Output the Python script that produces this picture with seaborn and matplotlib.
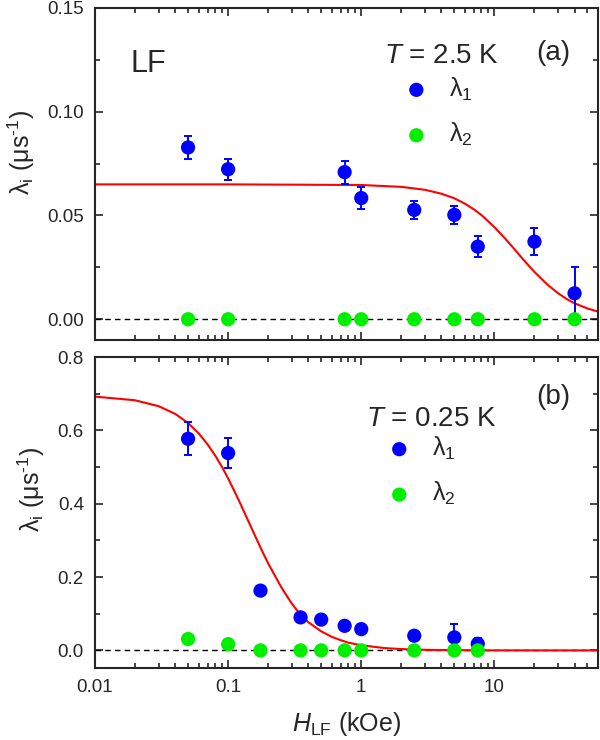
import matplotlib
matplotlib.use('Agg')
import matplotlib.pyplot as plt
import seaborn as sns
from matplotlib.ticker import FuncFormatter, AutoMinorLocator, NullFormatter, LogLocator

# Podaci - panel (a), T = 2.5 K
H_a = [0.05, 0.1, 0.75, 1.0, 2.5, 5.0, 7.5, 20, 40]
lam1_a = [0.0828, 0.0723, 0.0709, 0.0584, 0.0527, 0.0503, 0.0350, 0.0374, 0.0125]
err1_a = [0.0055, 0.0050, 0.0055, 0.0055, 0.0045, 0.0045, 0.0050, 0.0065, 0.0125]
lam2_a = [0, 0, 0, 0, 0, 0, 0, 0, 0]

# fit kriva (a), ocitana sa slike
H_fit_a = [0.01, 0.1, 1, 2, 3, 4, 5, 6, 7, 8, 10, 12, 14, 16, 18, 20, 25, 30, 35, 40, 50, 60]
fit_a = [0.0650, 0.0650, 0.0647, 0.0638, 0.0624, 0.0605, 0.0583, 0.0557, 0.0530, 0.0502, 0.0444,
         0.0390, 0.0341, 0.0297, 0.0260, 0.0228, 0.0167, 0.0126, 0.0097, 0.0077, 0.0052, 0.0037]

# Podaci - panel (b), T = 0.25 K
H_b = [0.05, 0.1, 0.175, 0.35, 0.5, 0.75, 1.0, 2.5, 5.0, 7.5]
lam1_b = [0.577, 0.538, 0.163, 0.090, 0.084, 0.067, 0.058, 0.040, 0.0355, 0.018]
err1_b = [0.045, 0.040, 0, 0, 0, 0, 0, 0, 0.036, 0.016]
lam2_b = [0.031, 0.017, 0, 0, 0, 0, 0, 0, 0, 0]

# fit kriva (b), ocitana sa slike
H_fit_b = [0.01, 0.02, 0.03, 0.04, 0.05, 0.06, 0.07, 0.08, 0.09, 0.1, 0.12, 0.14, 0.16, 0.18, 0.2,
           0.25, 0.3, 0.35, 0.4, 0.5, 0.6, 0.7, 0.8, 1.0, 1.5, 2, 3, 5, 10, 60]
fit_b = [0.692, 0.682, 0.666, 0.645, 0.620, 0.592, 0.562, 0.531, 0.500, 0.469, 0.410, 0.357, 0.311,
         0.271, 0.237, 0.173, 0.128, 0.097, 0.077, 0.052, 0.037, 0.028, 0.021, 0.014, 0.0063, 0.0036,
         0.0016, 0.0006, 0.0001, 0.0]

plava = '#0000ff'
zelena = '#00ee00'
ylabela = r'λ$_{\rm i}$ (μs$^{\text{-}1}$)'

sns.set_style('ticks')
plt.rcParams['font.family'] = ['Liberation Sans', 'DejaVu Sans']
plt.rcParams['mathtext.fontset'] = 'custom'
plt.rcParams['mathtext.rm'] = 'Liberation Sans'
plt.rcParams['mathtext.it'] = 'Liberation Sans:italic'

fig, (ax1, ax2) = plt.subplots(2, 1, figsize=(6, 7.4), dpi=100)
ax1.set_position([95 / 600, 1 - 340 / 740, 503 / 600, 332 / 740])
ax2.set_position([95 / 600, 1 - 668 / 740, 503 / 600, 311 / 740])


def crtaj(ax, H, lam1, err1, lam2, H_fit, fit):
    ax.axhline(0, color='black', lw=1, ls=(0, (4, 3)), zorder=1)
    sns.lineplot(x=H_fit, y=fit, ax=ax, color='red', lw=1.5, zorder=2)
    ax.errorbar(H, lam1, yerr=err1, fmt='none', ecolor=plava, elinewidth=1.4,
                capsize=3.2, capthick=1.4, zorder=3)
    sns.scatterplot(x=H, y=lam1, ax=ax, color=plava, s=105, edgecolor='none',
                    label=r'λ$_{\rm 1}$', zorder=4)
    sns.scatterplot(x=H, y=lam2, ax=ax, color=zelena, s=105, edgecolor='none',
                    label=r'λ$_{\rm 2}$', zorder=4)
    ax.set_xscale('log')
    ax.set_xlim(0.01, 60)
    ax.xaxis.set_major_locator(LogLocator(base=10))
    ax.xaxis.set_minor_locator(LogLocator(base=10, subs=range(2, 10)))
    ax.xaxis.set_minor_formatter(NullFormatter())
    ax.xaxis.set_major_formatter(FuncFormatter(lambda v, p: f'{v:g}'))
    ax.yaxis.set_minor_locator(AutoMinorLocator(2))
    ax.tick_params(which='both', direction='in', top=True, right=True, width=1.2)
    ax.tick_params(which='major', length=6, labelsize=13.5, pad=8)
    ax.tick_params(which='minor', length=3.5)
    for s in ax.spines.values():
        s.set_linewidth(1.5)


crtaj(ax1, H_a, lam1_a, err1_a, lam2_a, H_fit_a, fit_a)
crtaj(ax2, H_b, lam1_b, err1_b, lam2_b, H_fit_b, fit_b)

# panel (a)
ax1.set_ylim(-0.01, 0.15)
ax1.set_yticks([0.0, 0.05, 0.10, 0.15])
ax1.yaxis.set_major_formatter(FuncFormatter(lambda v, p: f'{v:.2f}'))
ax1.tick_params(labelbottom=False)
ax1.set_xlabel('')
ax1.set_ylabel(ylabela, fontsize=18)
ax1.yaxis.set_label_coords(-0.115, 0.565)
ax1.text(0.105, 0.83, 'LF', transform=ax1.transAxes, fontsize=22, ha='center', va='center')
ax1.text(0.911, 0.865, '(a)', transform=ax1.transAxes, fontsize=20, ha='center', va='center')
ax1.text(0.688, 0.855, r'$T$ = 2.5 K', transform=ax1.transAxes, fontsize=20, ha='center', va='center')
ax1.legend(loc='upper left', bbox_to_anchor=(0.614, 0.797), frameon=False, fontsize=18,
           labelspacing=0.73, handlelength=1.0, handletextpad=0.8, borderpad=0,
           borderaxespad=0)

# panel (b)
ax2.set_ylim(-0.048, 0.8)
ax2.set_yticks([0.0, 0.2, 0.4, 0.6, 0.8])
ax2.yaxis.set_major_formatter(FuncFormatter(lambda v, p: f'{v:.1f}'))
ax2.set_ylabel(ylabela, fontsize=18)
ax2.yaxis.set_label_coords(-0.095, 0.575)
ax2.set_xlabel(r'$H_{\rm LF}$ (kOe)', fontsize=18, labelpad=10)
ax2.text(0.911, 0.87, '(b)', transform=ax2.transAxes, fontsize=20, ha='center', va='center')
ax2.text(0.668, 0.80, r'$T$ = 0.25 K', transform=ax2.transAxes, fontsize=20, ha='center', va='center')
ax2.legend(loc='upper left', bbox_to_anchor=(0.580, 0.75), frameon=False, fontsize=18,
           labelspacing=0.73, handlelength=1.0, handletextpad=0.8, borderpad=0,
           borderaxespad=0)

plt.savefig('out.png', dpi=100)
